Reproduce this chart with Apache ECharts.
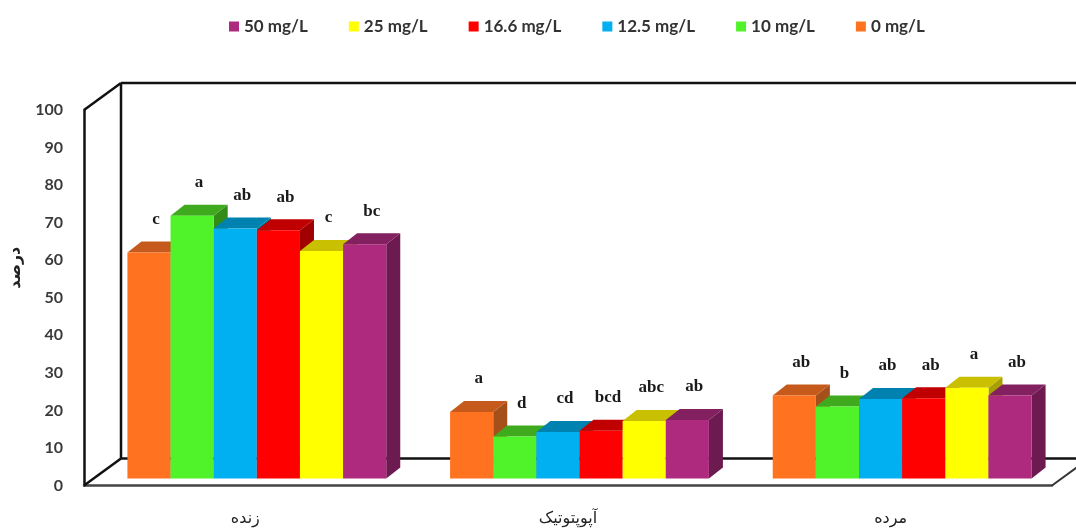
<!DOCTYPE html>
<html>
<head>
<meta charset="utf-8">
<style>html,body{margin:0;padding:0;background:#fff}#c{width:1076px;height:528px;filter:blur(0.45px)}</style>
<script src="https://cdn.jsdelivr.net/npm/echarts@6/dist/echarts.min.js"></script>
</head>
<body>
<div id="c"></div>
<script>
const categories = ['زنده', 'آپوپتوتیک', 'مرده'];
const seriesNames = ['0 mg/L', '10 mg/L', '12.5 mg/L', '16.6 mg/L', '25 mg/L', '50 mg/L'];
const v0 = [60.2, 17.7, 22.1];
const v10 = [70.0, 11.2, 19.2];
const v12 = [66.6, 12.4, 21.2];
const v16 = [66.1, 12.7, 21.4];
const v25 = [60.6, 15.3, 24.2];
const v50 = [62.4, 15.6, 22.1];
const l0 = ['c', 'a', 'ab'];
const l10 = ['a', 'd', 'b'];
const l12 = ['ab', 'cd', 'ab'];
const l16 = ['ab', 'bcd', 'ab'];
const l25 = ['c', 'abc', 'a'];
const l50 = ['bc', 'ab', 'ab'];
const yTicks = [0, 100, 10];

const front = ['#FF7220', '#50F22A', '#00B0F0', '#FF0000', '#FFFF00', '#AD2A7E'];
const top_ = ['#C55A1C', '#3FAA1E', '#0082B0', '#C00000', '#C8C000', '#822060'];
const side = ['#A5501A', '#348C18', '#006F96', '#A00000', '#A8A000', '#6D1A50'];
const values = [v0, v10, v12, v16, v25, v50];
const letters = [l0, l10, l12, l16, l25, l50];

const INSET_X = 11.5, INSET_Y = -7, DX = 14, DY = -11, BAND = 0.1337;
const WALL_X = 37, WALL_Y = -27;

function barRender(si) {
  return function (params, api) {
    const cat = api.value(0), val = api.value(1);
    const w = api.size([1, 0])[0] * BAND;
    const c = api.coord([cat, val]);
    const b = api.coord([cat, 0]);
    const x = c[0] + INSET_X + (si - 3) * w;
    const yt = c[1] + INSET_Y, yb = b[1] + INSET_Y;
    return {
      type: 'group',
      children: [
        { type: 'polygon', shape: { points: [[x + w, yt], [x + w + DX, yt + DY], [x + w + DX, yb + DY], [x + w, yb]] }, style: { fill: side[si] } },
        { type: 'polygon', shape: { points: [[x, yt], [x + DX, yt + DY], [x + w + DX, yt + DY], [x + w, yt]] }, style: { fill: top_[si] } },
        { type: 'rect', shape: { x: x, y: yt, width: w, height: yb - yt }, style: { fill: front[si] } },
        { type: 'text', x: x + w / 2 + 7, y: yt - 33, style: { text: letters[si][params.dataIndex], fill: '#1a1a1a', font: 'bold 17px "Liberation Serif"', align: 'center', verticalAlign: 'middle' } }
      ]
    };
  };
}

function frameRender(params) {
  const s = params.coordSys;
  const L = s.x, T = s.y, B = s.y + s.height, R = s.x + s.width;
  const line = (a, b, c, w) => ({ type: 'line', shape: { x1: a[0], y1: a[1], x2: b[0], y2: b[1] }, style: { stroke: c, lineWidth: w } });
  const bl = [L + WALL_X, B + WALL_Y], tl = [L + WALL_X, T + WALL_Y];
  return {
    type: 'group',
    children: [
      line(tl, [R + WALL_X + 40, tl[1]], '#111', 2.5),
      line(tl, bl, '#111', 2.5),
      line(bl, [R + WALL_X + 40, bl[1]], '#111', 2.5),
      line([L, T], tl, '#111', 2.5),
      line([L, B], bl, '#111', 2.5),
      line([R, B], [R + WALL_X, bl[1]], '#333', 2)
    ]
  };
}

const chart = echarts.init(document.getElementById('c'), null, { renderer: 'canvas' });
chart.setOption({
  animation: false,
  backgroundColor: '#fff',
  legend: {
    left: 224, top: 13, icon: 'rect', itemWidth: 10, itemHeight: 10, itemGap: 41,
    data: seriesNames.slice().reverse().map((n, i) => ({ name: n, itemStyle: { color: front[5 - i] } })),
    textStyle: { fontFamily: 'Lato', fontWeight: 'bold', fontSize: 17, color: '#333' }
  },
  grid: { left: 83, top: 110, width: 969, height: 375.5 },
  xAxis: {
    type: 'category', data: categories,
    axisLine: { show: true, lineStyle: { color: '#444', width: 2.5 } },
    axisTick: { show: false },
    axisLabel: { margin: 25, fontFamily: 'DejaVu Sans', fontSize: 16, color: '#222' }
  },
  yAxis: {
    type: 'value', min: yTicks[0], max: yTicks[1], interval: yTicks[2],
    name: 'درصد', nameLocation: 'middle', nameGap: 60, nameRotate: 90,
    nameTextStyle: { fontFamily: 'DejaVu Sans', fontWeight: 'bold', fontSize: 16, color: '#222', padding: [0, 0, 0, 60] },
    axisLine: { show: true, lineStyle: { color: '#111', width: 2.5 } },
    axisTick: { show: false },
    splitLine: { show: false },
    axisLabel: { margin: 21, fontFamily: 'Lato', fontWeight: 'bold', fontSize: 16, color: '#3a3a3a' }
  },
  series: [
    { type: 'custom', name: 'frame', silent: true, clip: false, z: 1, renderItem: frameRender, data: [[0, 0]], encode: { x: 0, y: 1 } }
  ].concat(seriesNames.map((n, si) => ({
    type: 'custom', name: n, clip: false, z: 2 + si,
    itemStyle: { color: front[si] },
    renderItem: barRender(si),
    encode: { x: 0, y: 1 },
    data: values[si].map((v, i) => [i, v])
  })))
});
</script>
</body>
</html>
